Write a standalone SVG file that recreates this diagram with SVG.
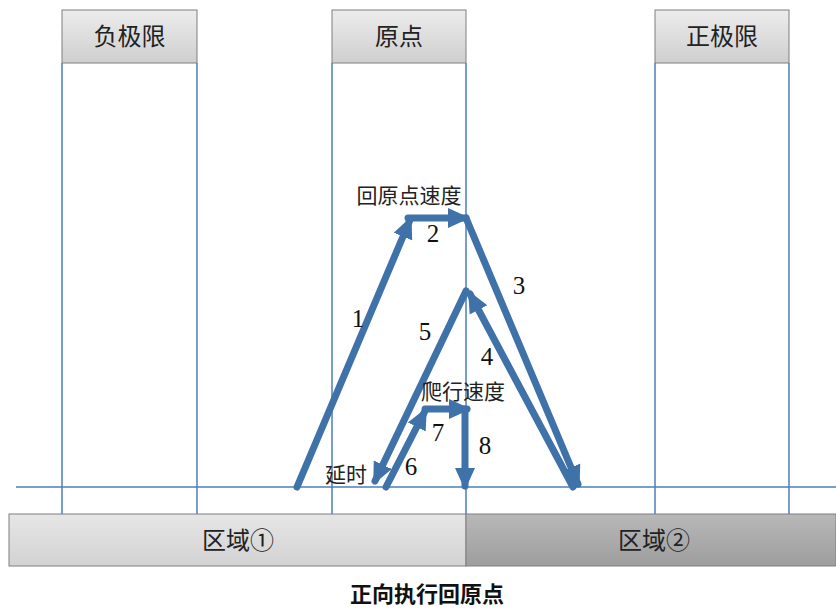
<svg xmlns="http://www.w3.org/2000/svg" width="836" height="611" viewBox="0 0 836 611">
<defs>
<linearGradient id="gh" x1="0" y1="0" x2="0" y2="1"><stop offset="0" stop-color="#ececec"/><stop offset="1" stop-color="#cfcfcf"/></linearGradient>
<linearGradient id="gl" x1="0" y1="0" x2="0" y2="1"><stop offset="0" stop-color="#e6e6e6"/><stop offset="1" stop-color="#d2d2d2"/></linearGradient>
<linearGradient id="gd" x1="0" y1="0" x2="0" y2="1"><stop offset="0" stop-color="#b8b8b8"/><stop offset="1" stop-color="#9e9e9e"/></linearGradient>
<marker id="ah" markerUnits="userSpaceOnUse" markerWidth="24" markerHeight="24" refX="18" refY="11" orient="auto" viewBox="0 0 24 22">
<path d="M0,1 L22,11 L0,21 z" fill="#3e72a8"/>
</marker>
<style>
.vl{stroke:#4a7ebb;stroke-width:1.5;fill:none}
.hdr{fill:url(#gh);stroke:#7f7f7f;stroke-width:1}
.ht{font-family:"Noto Sans CJK SC",sans-serif;font-size:24px;fill:#222;text-anchor:middle}
.ar{stroke:#3e72a8;stroke-width:7;fill:none;stroke-linecap:round;stroke-linejoin:round}
.num{font-family:"Liberation Serif",serif;font-size:25px;fill:#111;text-anchor:middle}
.cj{font-family:"Noto Sans CJK SC",sans-serif;font-size:21px;fill:#222;text-anchor:middle}
</style>
</defs>
<g id="grid">
<line class="vl" x1="62" y1="63" x2="62" y2="514"/>
<line class="vl" x1="197" y1="63" x2="197" y2="514"/>
<line class="vl" x1="332" y1="63" x2="332" y2="514"/>
<line class="vl" x1="466" y1="63" x2="466" y2="514"/>
<line class="vl" x1="655" y1="63" x2="655" y2="514"/>
<line class="vl" x1="789" y1="63" x2="789" y2="514"/>
<line class="vl" x1="16" y1="487" x2="836" y2="487"/>
</g>
<g id="neg-limit"><rect class="hdr" x="62" y="10" width="135" height="53"/><text class="ht" x="129.5" y="45">负极限</text></g>
<g id="origin"><rect class="hdr" x="332" y="10" width="134" height="53"/><text class="ht" x="399" y="45">原点</text></g>
<g id="pos-limit"><rect class="hdr" x="655" y="10" width="134" height="53"/><text class="ht" x="722" y="45">正极限</text></g>
<g id="zone1"><rect x="9" y="514" width="457" height="52" fill="url(#gl)" stroke="#7f7f7f" stroke-width="1"/><text class="ht" x="238" y="549">区域①</text></g>
<g id="zone2"><rect x="466" y="514" width="370" height="52" fill="url(#gd)" stroke="#7f7f7f" stroke-width="1"/><text class="ht" x="654" y="549">区域②</text></g>
<g id="connectors">
<line class="ar" x1="297" y1="487" x2="410" y2="220" marker-end="url(#ah)"/>
<line class="ar" x1="408" y1="218" x2="466" y2="218" marker-end="url(#ah)"/>
<line class="ar" x1="466" y1="218" x2="578" y2="484" marker-end="url(#ah)"/>
<line class="ar" x1="573" y1="487" x2="470" y2="294" marker-end="url(#ah)"/>
<line class="ar" x1="466" y1="291" x2="375" y2="481" marker-end="url(#ah)"/>
<line class="ar" x1="386" y1="487" x2="425" y2="411" marker-end="url(#ah)"/>
<line class="ar" x1="425" y1="409" x2="467" y2="409" marker-end="url(#ah)"/>
<line class="ar" x1="465" y1="409" x2="465" y2="486" marker-end="url(#ah)"/>
</g>
<g id="labels">
<text class="cj" x="409" y="203">回原点速度</text>
<text class="cj" x="463" y="399">爬行速度</text>
<text class="cj" x="346" y="482">延时</text>
<text class="num" x="433" y="242">2</text>
<text class="num" x="358" y="327">1</text>
<text class="num" x="519" y="294">3</text>
<text class="num" x="425" y="340">5</text>
<text class="num" x="487" y="365">4</text>
<text class="num" x="438" y="441">7</text>
<text class="num" x="485" y="454">8</text>
<text class="num" x="411" y="475">6</text>
</g>
<text x="427" y="602" font-family="'Noto Sans CJK SC',sans-serif" font-size="22" font-weight="bold" text-anchor="middle" fill="#111">正向执行回原点</text>
</svg>
